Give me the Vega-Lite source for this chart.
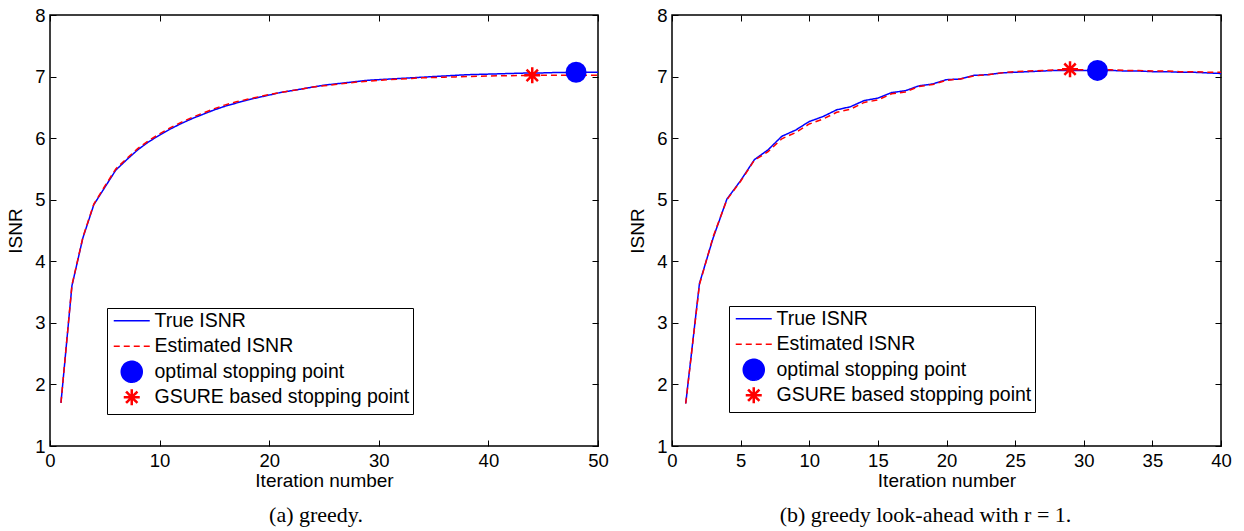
{
  "$schema": "https://vega.github.io/schema/vega-lite/v6.json",
  "background": "white",
  "padding": {"left": 5, "top": 5, "right": 5, "bottom": 5},
  "spacing": 17,
  "resolve": {"scale": {"color": "independent", "strokeDash": "independent"}, "legend": {"color": "independent"}},
  "config": {
    "font": "Liberation Sans",
    "view": {"stroke": "black", "strokeWidth": 1.5},
    "axis": {
      "labelFont": "Liberation Sans", "labelFontSize": 18.5, "labelColor": "black",
      "titleFont": "Liberation Sans", "titleFontSize": 19, "titleFontWeight": "normal", "titleColor": "black",
      "domain": false, "grid": false, "tickColor": "black", "tickWidth": 1, "tickSize": -6,
      "labelPadding": 11, "labelFlush": false, "labelOverlap": false
    },
    "title": {"font": "Liberation Serif", "fontSize": 22, "fontWeight": "normal", "color": "black"}
  },
  "datasets": {
    "lineA": [
      {"iter":1,"isnr":1.70,"series":"True ISNR"},{"iter":2,"isnr":3.60,"series":"True ISNR"},{"iter":3,"isnr":4.38,"series":"True ISNR"},{"iter":4,"isnr":4.92,"series":"True ISNR"},{"iter":5,"isnr":5.20,"series":"True ISNR"},{"iter":6,"isnr":5.48,"series":"True ISNR"},{"iter":7,"isnr":5.65,"series":"True ISNR"},{"iter":8,"isnr":5.81,"series":"True ISNR"},{"iter":9,"isnr":5.94,"series":"True ISNR"},{"iter":10,"isnr":6.05,"series":"True ISNR"},
      {"iter":11,"isnr":6.15,"series":"True ISNR"},{"iter":12,"isnr":6.24,"series":"True ISNR"},{"iter":13,"isnr":6.32,"series":"True ISNR"},{"iter":14,"isnr":6.39,"series":"True ISNR"},{"iter":15,"isnr":6.46,"series":"True ISNR"},{"iter":16,"isnr":6.52,"series":"True ISNR"},{"iter":17,"isnr":6.57,"series":"True ISNR"},{"iter":18,"isnr":6.62,"series":"True ISNR"},{"iter":19,"isnr":6.66,"series":"True ISNR"},{"iter":20,"isnr":6.70,"series":"True ISNR"},
      {"iter":21,"isnr":6.74,"series":"True ISNR"},{"iter":22,"isnr":6.77,"series":"True ISNR"},{"iter":23,"isnr":6.80,"series":"True ISNR"},{"iter":24,"isnr":6.83,"series":"True ISNR"},{"iter":25,"isnr":6.86,"series":"True ISNR"},{"iter":26,"isnr":6.88,"series":"True ISNR"},{"iter":27,"isnr":6.90,"series":"True ISNR"},{"iter":28,"isnr":6.92,"series":"True ISNR"},{"iter":29,"isnr":6.94,"series":"True ISNR"},{"iter":30,"isnr":6.95,"series":"True ISNR"},
      {"iter":31,"isnr":6.96,"series":"True ISNR"},{"iter":32,"isnr":6.97,"series":"True ISNR"},{"iter":33,"isnr":6.98,"series":"True ISNR"},{"iter":34,"isnr":6.99,"series":"True ISNR"},{"iter":35,"isnr":7.00,"series":"True ISNR"},{"iter":36,"isnr":7.01,"series":"True ISNR"},{"iter":37,"isnr":7.02,"series":"True ISNR"},{"iter":38,"isnr":7.03,"series":"True ISNR"},{"iter":39,"isnr":7.035,"series":"True ISNR"},{"iter":40,"isnr":7.04,"series":"True ISNR"},
      {"iter":41,"isnr":7.045,"series":"True ISNR"},{"iter":42,"isnr":7.05,"series":"True ISNR"},{"iter":43,"isnr":7.055,"series":"True ISNR"},{"iter":44,"isnr":7.06,"series":"True ISNR"},{"iter":45,"isnr":7.06,"series":"True ISNR"},{"iter":46,"isnr":7.065,"series":"True ISNR"},{"iter":47,"isnr":7.065,"series":"True ISNR"},{"iter":48,"isnr":7.07,"series":"True ISNR"},{"iter":49,"isnr":7.07,"series":"True ISNR"},{"iter":50,"isnr":7.07,"series":"True ISNR"},
      {"iter":1,"isnr":1.70,"series":"Estimated ISNR"},{"iter":2,"isnr":3.61,"series":"Estimated ISNR"},{"iter":3,"isnr":4.39,"series":"Estimated ISNR"},{"iter":4,"isnr":4.93,"series":"Estimated ISNR"},{"iter":5,"isnr":5.22,"series":"Estimated ISNR"},{"iter":6,"isnr":5.50,"series":"Estimated ISNR"},{"iter":7,"isnr":5.67,"series":"Estimated ISNR"},{"iter":8,"isnr":5.83,"series":"Estimated ISNR"},{"iter":9,"isnr":5.96,"series":"Estimated ISNR"},{"iter":10,"isnr":6.07,"series":"Estimated ISNR"},
      {"iter":11,"isnr":6.17,"series":"Estimated ISNR"},{"iter":12,"isnr":6.26,"series":"Estimated ISNR"},{"iter":13,"isnr":6.34,"series":"Estimated ISNR"},{"iter":14,"isnr":6.41,"series":"Estimated ISNR"},{"iter":15,"isnr":6.48,"series":"Estimated ISNR"},{"iter":16,"isnr":6.54,"series":"Estimated ISNR"},{"iter":17,"isnr":6.59,"series":"Estimated ISNR"},{"iter":18,"isnr":6.63,"series":"Estimated ISNR"},{"iter":19,"isnr":6.67,"series":"Estimated ISNR"},{"iter":20,"isnr":6.71,"series":"Estimated ISNR"},
      {"iter":21,"isnr":6.74,"series":"Estimated ISNR"},{"iter":22,"isnr":6.77,"series":"Estimated ISNR"},{"iter":23,"isnr":6.80,"series":"Estimated ISNR"},{"iter":24,"isnr":6.83,"series":"Estimated ISNR"},{"iter":25,"isnr":6.85,"series":"Estimated ISNR"},{"iter":26,"isnr":6.87,"series":"Estimated ISNR"},{"iter":27,"isnr":6.89,"series":"Estimated ISNR"},{"iter":28,"isnr":6.91,"series":"Estimated ISNR"},{"iter":29,"isnr":6.925,"series":"Estimated ISNR"},{"iter":30,"isnr":6.94,"series":"Estimated ISNR"},
      {"iter":31,"isnr":6.95,"series":"Estimated ISNR"},{"iter":32,"isnr":6.96,"series":"Estimated ISNR"},{"iter":33,"isnr":6.97,"series":"Estimated ISNR"},{"iter":34,"isnr":6.98,"series":"Estimated ISNR"},{"iter":35,"isnr":6.985,"series":"Estimated ISNR"},{"iter":36,"isnr":6.99,"series":"Estimated ISNR"},{"iter":37,"isnr":6.995,"series":"Estimated ISNR"},{"iter":38,"isnr":7.0,"series":"Estimated ISNR"},{"iter":39,"isnr":7.005,"series":"Estimated ISNR"},{"iter":40,"isnr":7.01,"series":"Estimated ISNR"},
      {"iter":41,"isnr":7.012,"series":"Estimated ISNR"},{"iter":42,"isnr":7.015,"series":"Estimated ISNR"},{"iter":43,"isnr":7.018,"series":"Estimated ISNR"},{"iter":44,"isnr":7.02,"series":"Estimated ISNR"},{"iter":45,"isnr":7.02,"series":"Estimated ISNR"},{"iter":46,"isnr":7.02,"series":"Estimated ISNR"},{"iter":47,"isnr":7.02,"series":"Estimated ISNR"},{"iter":48,"isnr":7.02,"series":"Estimated ISNR"},{"iter":49,"isnr":7.02,"series":"Estimated ISNR"},{"iter":50,"isnr":7.02,"series":"Estimated ISNR"}
    ],
    "optA": [{"iter":48,"isnr":7.07,"series":"optimal stopping point"}],
    "gsureA": [{"iter":44,"isnr":7.02,"series":"GSURE based stopping point"}],
    "lineB": [
      {"iter":1,"isnr":1.69,"series":"True ISNR"},{"iter":2,"isnr":3.64,"series":"True ISNR"},{"iter":3,"isnr":4.38,"series":"True ISNR"},{"iter":4,"isnr":5.01,"series":"True ISNR"},{"iter":5,"isnr":5.31,"series":"True ISNR"},{"iter":6,"isnr":5.65,"series":"True ISNR"},{"iter":7,"isnr":5.81,"series":"True ISNR"},{"iter":8,"isnr":6.03,"series":"True ISNR"},{"iter":9,"isnr":6.13,"series":"True ISNR"},{"iter":10,"isnr":6.27,"series":"True ISNR"},
      {"iter":11,"isnr":6.35,"series":"True ISNR"},{"iter":12,"isnr":6.46,"series":"True ISNR"},{"iter":13,"isnr":6.51,"series":"True ISNR"},{"iter":14,"isnr":6.61,"series":"True ISNR"},{"iter":15,"isnr":6.65,"series":"True ISNR"},{"iter":16,"isnr":6.74,"series":"True ISNR"},{"iter":17,"isnr":6.77,"series":"True ISNR"},{"iter":18,"isnr":6.85,"series":"True ISNR"},{"iter":19,"isnr":6.88,"series":"True ISNR"},{"iter":20,"isnr":6.95,"series":"True ISNR"},
      {"iter":21,"isnr":6.96,"series":"True ISNR"},{"iter":22,"isnr":7.02,"series":"True ISNR"},{"iter":23,"isnr":7.03,"series":"True ISNR"},{"iter":24,"isnr":7.06,"series":"True ISNR"},{"iter":25,"isnr":7.07,"series":"True ISNR"},{"iter":26,"isnr":7.08,"series":"True ISNR"},{"iter":27,"isnr":7.09,"series":"True ISNR"},{"iter":28,"isnr":7.10,"series":"True ISNR"},{"iter":29,"isnr":7.10,"series":"True ISNR"},{"iter":30,"isnr":7.10,"series":"True ISNR"},
      {"iter":31,"isnr":7.10,"series":"True ISNR"},{"iter":32,"isnr":7.10,"series":"True ISNR"},{"iter":33,"isnr":7.09,"series":"True ISNR"},{"iter":34,"isnr":7.09,"series":"True ISNR"},{"iter":35,"isnr":7.08,"series":"True ISNR"},{"iter":36,"isnr":7.08,"series":"True ISNR"},{"iter":37,"isnr":7.07,"series":"True ISNR"},{"iter":38,"isnr":7.07,"series":"True ISNR"},{"iter":39,"isnr":7.06,"series":"True ISNR"},{"iter":40,"isnr":7.05,"series":"True ISNR"},
      {"iter":1,"isnr":1.69,"series":"Estimated ISNR"},{"iter":2,"isnr":3.62,"series":"Estimated ISNR"},{"iter":3,"isnr":4.40,"series":"Estimated ISNR"},{"iter":4,"isnr":5.00,"series":"Estimated ISNR"},{"iter":5,"isnr":5.30,"series":"Estimated ISNR"},{"iter":6,"isnr":5.64,"series":"Estimated ISNR"},{"iter":7,"isnr":5.78,"series":"Estimated ISNR"},{"iter":8,"isnr":5.99,"series":"Estimated ISNR"},{"iter":9,"isnr":6.09,"series":"Estimated ISNR"},{"iter":10,"isnr":6.23,"series":"Estimated ISNR"},
      {"iter":11,"isnr":6.31,"series":"Estimated ISNR"},{"iter":12,"isnr":6.42,"series":"Estimated ISNR"},{"iter":13,"isnr":6.47,"series":"Estimated ISNR"},{"iter":14,"isnr":6.58,"series":"Estimated ISNR"},{"iter":15,"isnr":6.62,"series":"Estimated ISNR"},{"iter":16,"isnr":6.72,"series":"Estimated ISNR"},{"iter":17,"isnr":6.75,"series":"Estimated ISNR"},{"iter":18,"isnr":6.84,"series":"Estimated ISNR"},{"iter":19,"isnr":6.87,"series":"Estimated ISNR"},{"iter":20,"isnr":6.94,"series":"Estimated ISNR"},
      {"iter":21,"isnr":6.96,"series":"Estimated ISNR"},{"iter":22,"isnr":7.01,"series":"Estimated ISNR"},{"iter":23,"isnr":7.03,"series":"Estimated ISNR"},{"iter":24,"isnr":7.06,"series":"Estimated ISNR"},{"iter":25,"isnr":7.08,"series":"Estimated ISNR"},{"iter":26,"isnr":7.09,"series":"Estimated ISNR"},{"iter":27,"isnr":7.10,"series":"Estimated ISNR"},{"iter":28,"isnr":7.11,"series":"Estimated ISNR"},{"iter":29,"isnr":7.11,"series":"Estimated ISNR"},{"iter":30,"isnr":7.11,"series":"Estimated ISNR"},
      {"iter":31,"isnr":7.11,"series":"Estimated ISNR"},{"iter":32,"isnr":7.11,"series":"Estimated ISNR"},{"iter":33,"isnr":7.10,"series":"Estimated ISNR"},{"iter":34,"isnr":7.10,"series":"Estimated ISNR"},{"iter":35,"isnr":7.09,"series":"Estimated ISNR"},{"iter":36,"isnr":7.09,"series":"Estimated ISNR"},{"iter":37,"isnr":7.08,"series":"Estimated ISNR"},{"iter":38,"isnr":7.08,"series":"Estimated ISNR"},{"iter":39,"isnr":7.07,"series":"Estimated ISNR"},{"iter":40,"isnr":7.07,"series":"Estimated ISNR"}
    ],
    "optB": [{"iter":31,"isnr":7.10,"series":"optimal stopping point"}],
    "gsureB": [{"iter":29,"isnr":7.12,"series":"GSURE based stopping point"}]
  },
  "hconcat": [
    {
      "width": 548, "height": 431,
      "title": {"text": "(a) greedy.", "orient": "bottom", "anchor": "middle", "offset": 14, "dx": -8},
      "resolve": {"axis": {"x": "independent", "y": "independent"}},
      "layer": [
        {
          "data": {"name": "lineA"},
          "mark": {"type": "line", "strokeWidth": 1.5},
          "encoding": {
            "x": {"field": "iter", "type": "quantitative", "scale": {"domain": [0, 50], "nice": false, "zero": false},
                  "axis": {"orient": "bottom", "values": [0,10,20,30,40,50], "title": "Iteration number", "titlePadding": 2}},
            "y": {"field": "isnr", "type": "quantitative", "scale": {"domain": [1, 8], "nice": false, "zero": false},
                  "axis": {"orient": "left", "values": [1,2,3,4,5,6,7,8], "title": "ISNR", "titlePadding": 9}},
            "color": {"field": "series", "type": "nominal",
              "scale": {"domain": ["True ISNR", "Estimated ISNR", "optimal stopping point", "GSURE based stopping point"], "range": ["#0000ff", "#ff0000", "#0000ff", "#ff0000"]},
              "legend": {
                "title": null, "orient": "none", "legendX": 57, "legendY": 293,
                "strokeColor": "black", "fillColor": "white", "padding": 3, "gridAlign": "all",
                "labelFont": "Liberation Sans", "labelFontSize": 19.5, "labelColor": "black", "labelLimit": 400,
                "symbolSize": 400, "symbolStrokeWidth": 1.5, "symbolOffset": 12, "labelOffset": 13, "rowPadding": -2.5,
                "encode": {"symbols": {"update": {
                  "shape": {"signal": "datum.value === 'optimal stopping point' ? 'M-1.05,0A1.05,1.05 0 1,0 1.05,0A1.05,1.05 0 1,0 -1.05,0Z' : datum.value === 'GSURE based stopping point' ? 'M-0.8,0L0.8,0M0,-0.8L0,0.8M-0.57,-0.57L0.57,0.57M-0.57,0.57L0.57,-0.57' : 'M-1.8,0L1.8,0'"},
                  "fill": {"signal": "datum.value === 'optimal stopping point' ? '#0000ff' : 'transparent'"},
                  "stroke": {"signal": "datum.value === 'True ISNR' || datum.value === 'optimal stopping point' ? '#0000ff' : '#ff0000'"},
                  "strokeDash": {"signal": "datum.value === 'Estimated ISNR' ? [6,4] : [1,0]"},
                  "strokeWidth": {"signal": "datum.value === 'GSURE based stopping point' ? 2.5 : 1.5"},
                  "opacity": {"value": 1}
                }}}
              }},
            "strokeDash": {"field": "series", "type": "nominal",
              "scale": {"domain": ["True ISNR", "Estimated ISNR"], "range": [[1,0],[6,4]]}, "legend": null}
          }
        },
        {
          "data": {"name": "optA"},
          "mark": {"type": "point", "shape": "circle", "filled": true, "size": 441, "opacity": 1},
          "encoding": {
            "x": {"field": "iter", "type": "quantitative", "axis": {"orient": "top", "values": [0,10,20,30,40,50], "labels": false, "title": null}},
            "y": {"field": "isnr", "type": "quantitative", "axis": {"orient": "right", "values": [1,2,3,4,5,6,7,8], "labels": false, "title": null}},
            "color": {"field": "series", "type": "nominal"}
          }
        },
        {
          "data": {"name": "gsureA"},
          "mark": {"type": "point", "shape": "M-1,0L1,0M0,-1L0,1M-0.71,-0.71L0.71,0.71M-0.71,0.71L0.71,-0.71", "filled": false, "size": 256, "strokeWidth": 2.5, "opacity": 1},
          "encoding": {
            "x": {"field": "iter", "type": "quantitative", "axis": null},
            "y": {"field": "isnr", "type": "quantitative", "axis": null},
            "color": {"field": "series", "type": "nominal"}
          }
        }
      ]
    },
    {
      "width": 549, "height": 431,
      "title": {"text": "(b) greedy look-ahead with r = 1.", "orient": "bottom", "anchor": "middle", "offset": 14, "dx": -21},
      "resolve": {"axis": {"x": "independent", "y": "independent"}},
      "layer": [
        {
          "data": {"name": "lineB"},
          "mark": {"type": "line", "strokeWidth": 1.5},
          "encoding": {
            "x": {"field": "iter", "type": "quantitative", "scale": {"domain": [0, 40], "nice": false, "zero": false},
                  "axis": {"orient": "bottom", "values": [0,5,10,15,20,25,30,35,40], "title": "Iteration number", "titlePadding": 2}},
            "y": {"field": "isnr", "type": "quantitative", "scale": {"domain": [1, 8], "nice": false, "zero": false},
                  "axis": {"orient": "left", "values": [1,2,3,4,5,6,7,8], "title": "ISNR", "titlePadding": 9}},
            "color": {"field": "series", "type": "nominal",
              "scale": {"domain": ["True ISNR", "Estimated ISNR", "optimal stopping point", "GSURE based stopping point"], "range": ["#0000ff", "#ff0000", "#0000ff", "#ff0000"]},
              "legend": {
                "title": null, "orient": "none", "legendX": 57, "legendY": 291,
                "strokeColor": "black", "fillColor": "white", "padding": 3, "gridAlign": "all",
                "labelFont": "Liberation Sans", "labelFontSize": 19.5, "labelColor": "black", "labelLimit": 400,
                "symbolSize": 400, "symbolStrokeWidth": 1.5, "symbolOffset": 12, "labelOffset": 13, "rowPadding": -2.5,
                "encode": {"symbols": {"update": {
                  "shape": {"signal": "datum.value === 'optimal stopping point' ? 'M-1.05,0A1.05,1.05 0 1,0 1.05,0A1.05,1.05 0 1,0 -1.05,0Z' : datum.value === 'GSURE based stopping point' ? 'M-0.8,0L0.8,0M0,-0.8L0,0.8M-0.57,-0.57L0.57,0.57M-0.57,0.57L0.57,-0.57' : 'M-1.8,0L1.8,0'"},
                  "fill": {"signal": "datum.value === 'optimal stopping point' ? '#0000ff' : 'transparent'"},
                  "stroke": {"signal": "datum.value === 'True ISNR' || datum.value === 'optimal stopping point' ? '#0000ff' : '#ff0000'"},
                  "strokeDash": {"signal": "datum.value === 'Estimated ISNR' ? [6,4] : [1,0]"},
                  "strokeWidth": {"signal": "datum.value === 'GSURE based stopping point' ? 2.5 : 1.5"},
                  "opacity": {"value": 1}
                }}}
              }},
            "strokeDash": {"field": "series", "type": "nominal",
              "scale": {"domain": ["True ISNR", "Estimated ISNR"], "range": [[1,0],[6,4]]}, "legend": null}
          }
        },
        {
          "data": {"name": "optB"},
          "mark": {"type": "point", "shape": "circle", "filled": true, "size": 441, "opacity": 1},
          "encoding": {
            "x": {"field": "iter", "type": "quantitative", "axis": {"orient": "top", "values": [0,5,10,15,20,25,30,35,40], "labels": false, "title": null}},
            "y": {"field": "isnr", "type": "quantitative", "axis": {"orient": "right", "values": [1,2,3,4,5,6,7,8], "labels": false, "title": null}},
            "color": {"field": "series", "type": "nominal"}
          }
        },
        {
          "data": {"name": "gsureB"},
          "mark": {"type": "point", "shape": "M-1,0L1,0M0,-1L0,1M-0.71,-0.71L0.71,0.71M-0.71,0.71L0.71,-0.71", "filled": false, "size": 256, "strokeWidth": 2.5, "opacity": 1},
          "encoding": {
            "x": {"field": "iter", "type": "quantitative", "axis": null},
            "y": {"field": "isnr", "type": "quantitative", "axis": null},
            "color": {"field": "series", "type": "nominal"}
          }
        }
      ]
    }
  ]
}
